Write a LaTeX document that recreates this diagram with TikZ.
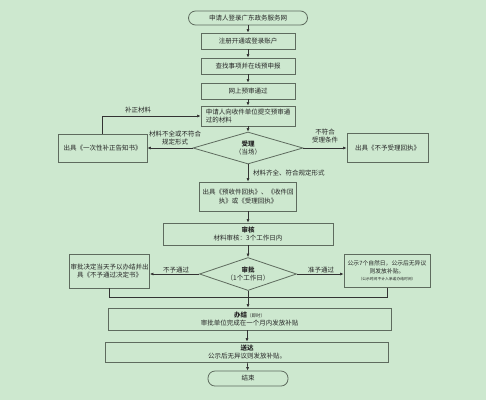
\documentclass[tikz,border=0pt]{standalone}
\usepackage{fontspec}
\setmainfont{Noto Sans CJK SC}
\usetikzlibrary{shapes.geometric, arrows.meta, positioning}
\definecolor{bgcol}{HTML}{CDE8CF}
\definecolor{edgecol}{HTML}{5E6B5E}
\definecolor{linecol}{HTML}{333333}
\tikzset{
  proc/.style={draw=edgecol, line width=0.8pt, rectangle, inner sep=1pt, align=center, text=black!85, font=\fontsize{6.5}{8.5}\selectfont},
  term/.style={proc, rounded corners=7pt},
  choice/.style={draw=edgecol, line width=0.8pt, diamond, aspect=3.4, inner sep=0pt, align=center, text=black!85, font=\fontsize{6.5}{8.5}\selectfont},
  flow/.style={draw=linecol, line width=0.6pt, -{Latex[length=3.5pt,width=3pt]}},
  wire/.style={draw=linecol, line width=0.6pt},
  lbl/.style={inner sep=1pt, align=center, text=black!85, font=\fontsize{6.5}{8}\selectfont}
}
\begin{document}
\begin{tikzpicture}[x=1pt,y=-1pt]

\fill [bgcol] (0,0) rectangle (486,400);
\useasboundingbox (0,0) rectangle (486,400);

\node (start) [term, minimum width=119pt, minimum height=14pt] at (248,18) {申请人登录广东政务服务网};
\node (reg) [proc, minimum width=94pt, minimum height=16pt] at (248,41) {注册开通或登录账户};
\node (find) [proc, minimum width=94pt, minimum height=16pt] at (248,66) {查找事项并在线预申报};
\node (pre) [proc, minimum width=94pt, minimum height=16pt] at (248,91) {网上预审通过};
\node (submit) [proc, minimum width=94pt, minimum height=20pt, align=left] at (248,116) {申请人向收件单位提交预审通\\过的材料};
\node (accept) [choice, minimum width=110pt, minimum height=32pt] at (248,148) {\textbf{受理}\\（当场）};
\node (fix) [proc, minimum width=89pt, minimum height=28pt] at (102.5,148) {出具《一次性补正告知书》};
\node (refuse) [proc, minimum width=81pt, minimum height=29pt] at (387.5,148) {出具《不予受理回执》};
\node (receipt) [proc, minimum width=97pt, minimum height=29pt] at (248,196.5) {出具《预收件回执》、《收件回\\执》或《受理回执》};
\node (audit) [proc, minimum width=170pt, minimum height=22pt] at (248,234) {\textbf{审核}\\材料审核：3个工作日内};
\node (approve) [choice, minimum width=97pt, minimum height=33pt] at (248,274) {\textbf{审批}\\（1个工作日）};
\node (deny) [proc, minimum width=79pt, minimum height=34pt] at (109.5,271) {审批决定当天予以办结并出\\具《不予通过决定书》};
\node (grant) [proc, minimum width=86pt, minimum height=33pt, font=\fontsize{5.8}{7.5}\selectfont] at (387,271) {公示7个自然日，公示后无异议\\则发放补贴。\\{\fontsize{3.8}{6}\selectfont（公示时间不计入承诺办结时间）}};
\node (done) [proc, minimum width=283pt, minimum height=22pt] at (249.5,319) {\textbf{办结}{\fontsize{4.5}{5}\selectfont（即时）}\\审批单位完成在一个月内发放补贴};
\node (deliver) [proc, minimum width=283pt, minimum height=20pt] at (247,352) {\textbf{送达}\\公示后无异议则发放补贴。};
\node (finish) [term, minimum width=80pt, minimum height=15pt] at (248,378.5) {结束};
\coordinate (join) at (248,297);

%labels:
\node (lfix) [lbl, anchor=south] at (138,114) {补正材料};
\node (lincomplete) [lbl] at (175,138) {材料不全或不符合\\规定形式};
\node (lnotmet) [lbl] at (325,136) {不符合\\受理条件};
\node (lcomplete) [lbl, anchor=west] at (252,173) {材料齐全、符合规定形式};
\node (lreject) [lbl, anchor=south] at (176,274.5) {不予通过};
\node (lpass) [lbl, anchor=south] at (321,274.5) {准予通过};

%main line:
\draw [flow] (start) -- (reg);
\draw [flow] (reg) -- (find);
\draw [flow] (find) -- (pre);
\draw [flow] (pre) -- (submit);
\draw [flow] (submit) -- (accept);
\draw [flow] (accept) -- (receipt);
\draw [flow] (receipt) -- (audit);
\draw [flow] (audit) -- (approve);
\draw [flow] (approve.south) -- (approve.south |- done.north);
\draw [flow] (done.south -| deliver) -- (deliver);
\draw [flow] (deliver) -- (finish);

%side branches:
\draw [flow] (accept.west) -- (fix.east);
\draw [flow] (fix.north) |- (submit.west);
\draw [flow] (accept.east) -- (refuse.west);
\draw [flow] (approve.west) -- (approve.west -| deny.east);
\draw [flow] (approve.east) -- (approve.east -| grant.west);
\draw [wire] (deny.south) |- (join);
\draw [wire] (grant.south) |- (join);

\end{tikzpicture}
\end{document}
